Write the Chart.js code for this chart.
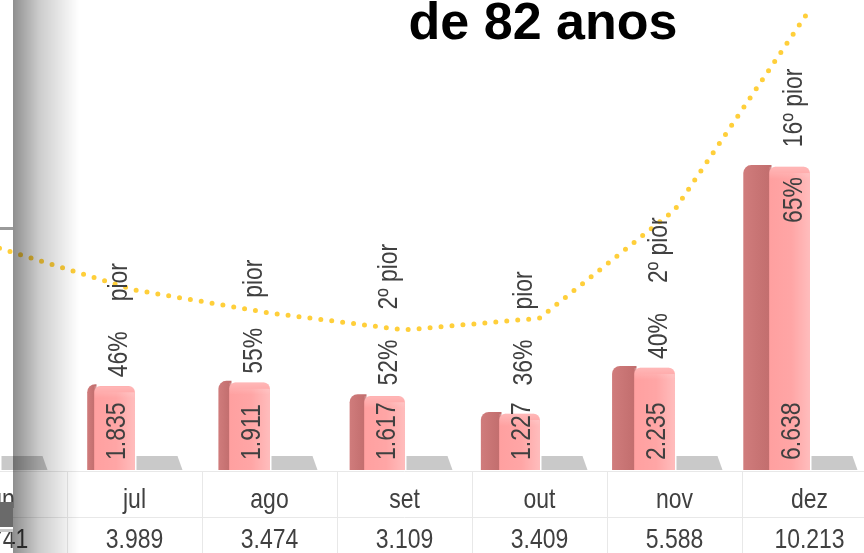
<!DOCTYPE html>
<html lang="pt-BR">
<head>
  <meta charset="UTF-8">
  <title>ENA mensal - de 82 anos</title>

  <!-- Chart.js -->
  <script src="https://cdn.jsdelivr.net/npm/chart.js@4"></script>

  <style>
    html, body { margin: 0; padding: 0; background: #fff; }
    body { width: 864px; height: 553px; overflow: hidden; position: relative; font-family: "Liberation Sans", Arial, sans-serif; }
    #wrap { position: absolute; left: -68px; top: 0; width: 945px; height: 553px; }
    #titulo { position: absolute; left: 378px; top: -5px; width: 330px; text-align: center;
              font-size: 52px; line-height: 52px; font-weight: bold; color: #000; }
    /* sombra da borda do slide */
    #sombra { position: absolute; left: 13px; top: 0; width: 66px; height: 553px;
              background: linear-gradient(to right, rgba(0,0,0,.44), rgba(0,0,0,.2) 40%, rgba(0,0,0,0)); }
    .risco { position: absolute; left: 0; width: 13px; }
  </style>
</head>
<body>

  <div id="wrap"><canvas id="grafico" width="945" height="553"></canvas></div>
  <div id="titulo">de 82 anos</div>
  <div id="sombra"></div>
  <div class="risco" style="top:227px;height:3px;background:#9a9a9a"></div>
  <div class="risco" style="top:502px;height:25px;background:#6a6a6a"></div>
  <div class="risco" style="top:529px;height:3px;background:#c8c8c8"></div>

  <script>
    // dados (MWmed)
    const meses      = ['jun', 'jul', 'ago', 'set', 'out', 'nov', 'dez'];
    const verificado = [null, 1835, 1911, 1617, 1227, 2235, 6638];
    const mlt        = [4741, 3989, 3474, 3109, 3409, 5588, 10213]; // jun: só "41" aparece
    const cinza      = [0, 0, 0, 0, 0, 0, 0];
    const ranking    = ['', 'pior', 'pior', '2º pior', 'pior', '2º pior', '16º pior'];
    // curva pontilhada (eixo oculto, unidades estimadas do desenho)
    const curva      = [47.2, 38.3, 33.4, 29.8, 32.3, 55.3, 97.9];

    const fmt = v => v.toLocaleString('pt-BR');
    const FONTE = '28px "Liberation Sans", Arial, sans-serif';
    const ESTREITO = 0.82; // fonte condensada (Arial Narrow no original)

    // texto condensado, na horizontal ou girado 90°
    function texto(ctx, t, x, y, girado) {
      ctx.save();
      ctx.translate(x, y);
      if (girado) ctx.rotate(-Math.PI / 2);
      ctx.scale(ESTREITO, 1);
      ctx.fillText(t, 0, 0);
      ctx.restore();
    }
    const largura = (ctx, t) => ctx.measureText(t).width * ESTREITO;

    const efeito3d = {
      id: 'efeito3d',
      beforeDatasetsDraw(chart) {
        const { ctx, chartArea, scales } = chart;
        const base = chartArea.bottom;

        // grade da tabela
        ctx.save();
        ctx.strokeStyle = '#e8e8e8';
        ctx.lineWidth = 1;
        ctx.beginPath();
        ctx.moveTo(0, base + 1.5); ctx.lineTo(chart.width, base + 1.5);
        ctx.moveTo(0, 517.5); ctx.lineTo(chart.width, 517.5);
        const meia = (scales.x.getPixelForValue(1) - scales.x.getPixelForValue(0)) / 2;
        meses.forEach((m, i) => {
          const c = Math.round(scales.x.getPixelForValue(i) + meia) + 0.5;
          ctx.moveTo(c, base + 2); ctx.lineTo(c, 553);
        });
        ctx.stroke();

        // tabela: mês e MLT
        ctx.font = FONTE;
        ctx.fillStyle = '#404040';
        ctx.textAlign = 'center';
        ctx.textBaseline = 'alphabetic';
        meses.forEach((m, i) => {
          const x = scales.x.getPixelForValue(i);
          texto(ctx, m, x, 508);
          texto(ctx, fmt(mlt[i]), x, 548);
        });

        // "piso" cinza da segunda série
        chart.getDatasetMeta(2).data.forEach(el => {
          const l = el.x - el.width / 2 + 2, r = el.x + el.width / 2 + 7;
          ctx.fillStyle = '#c9c9c9';
          ctx.beginPath();
          ctx.moveTo(l, base - 14);
          ctx.lineTo(r - 4, base - 14);
          ctx.lineTo(r + 1, base);
          ctx.lineTo(l, base);
          ctx.closePath();
          ctx.fill();
        });

        // face lateral das barras
        chart.getDatasetMeta(1).data.forEach((el, i) => {
          if (verificado[i] == null) return;
          const l = el.x - el.width / 2;
          const sw = 5 + 0.028 * (el.x - 100);
          const g = ctx.createLinearGradient(l - sw, 0, l, 0);
          g.addColorStop(0, '#d07c7c');
          g.addColorStop(1, '#c26e6e');
          ctx.fillStyle = g;
          ctx.beginPath();
          ctx.roundRect(l - sw, el.y - 2, sw + 2, base - el.y + 2, [8, 0, 0, 0]);
          ctx.fill();
        });
        ctx.restore();
      },
      afterDatasetsDraw(chart) {
        const { ctx, chartArea } = chart;
        const base = chartArea.bottom;
        ctx.save();

        // brilho na frente e no topo
        chart.getDatasetMeta(1).data.forEach((el, i) => {
          if (verificado[i] == null) return;
          const l = el.x - el.width / 2, r = el.x + el.width / 2;
          const g = ctx.createLinearGradient(l, 0, r, 0);
          g.addColorStop(0, 'rgba(255,255,255,0)');
          g.addColorStop(0.55, 'rgba(255,255,255,0.06)');
          g.addColorStop(1, 'rgba(255,255,255,0.3)');
          ctx.fillStyle = g;
          ctx.fillRect(l, el.y + 6, r - l, base - el.y - 6);
          const t = ctx.createLinearGradient(0, el.y, 0, el.y + 12);
          t.addColorStop(0, 'rgba(255,255,255,0.25)');
          t.addColorStop(1, 'rgba(255,255,255,0)');
          ctx.fillStyle = t;
          ctx.fillRect(l, el.y, r - l, 12);
        });

        // rótulos verticais
        ctx.font = FONTE;
        ctx.fillStyle = '#404040';
        ctx.textBaseline = 'middle';
        ctx.textAlign = 'left';
        chart.getDatasetMeta(1).data.forEach((el, i) => {
          const v = verificado[i];
          if (v == null) return;
          const valor = fmt(v);
          texto(ctx, valor, el.x + 3, base - 10, true);
          const fimValor = base - 10 - largura(ctx, valor);
          const pct = Math.round(v / mlt[i] * 100) + '%';
          const dentro = el.y < chartArea.top + 220;
          const ini = dentro ? el.y + 56 : Math.min(el.y - 6, fimValor - 14) - 3;
          texto(ctx, pct, el.x + 5, ini, true);
          const fim = ini - largura(ctx, pct) - 30;
          texto(ctx, ranking[i], el.x + 5, fim, true);
        });
        ctx.restore();
      }
    };

    new Chart(document.getElementById('grafico'), {
      type: 'bar',
      data: {
        labels: meses,
        datasets: [
          {
            type: 'line',
            data: curva,
            yAxisID: 'y2',
            borderColor: '#ffcf3a',
            borderWidth: 5,
            borderDash: [0, 11],
            borderCapStyle: 'round',
            pointRadius: 0,
            tension: 0,
            order: 0
          },
          {
            data: verificado,
            backgroundColor: '#ffa0a0',
            borderRadius: { topLeft: 6, topRight: 6 },
            borderSkipped: 'bottom',
            barThickness: 40,
            order: 1
          },
          {
            data: cinza,
            backgroundColor: 'rgba(0,0,0,0)',
            barThickness: 40,
            order: 2
          }
        ]
      },
      options: {
        responsive: false,
        animation: false,
        devicePixelRatio: 1,
        layout: { padding: 0 },
        plugins: { legend: { display: false }, tooltip: { enabled: false } },
        scales: {
          x: {
            offset: true,
            grid: { display: false, drawTicks: false },
            border: { display: false },
            ticks: { display: false },
            afterFit: s => { s.height = 83; }
          },
          y: { display: false, min: 0, max: 10300 },
          y2: { display: false, min: 0, max: 100 }
        }
      },
      plugins: [efeito3d]
    });
  </script>
</body>
</html>
